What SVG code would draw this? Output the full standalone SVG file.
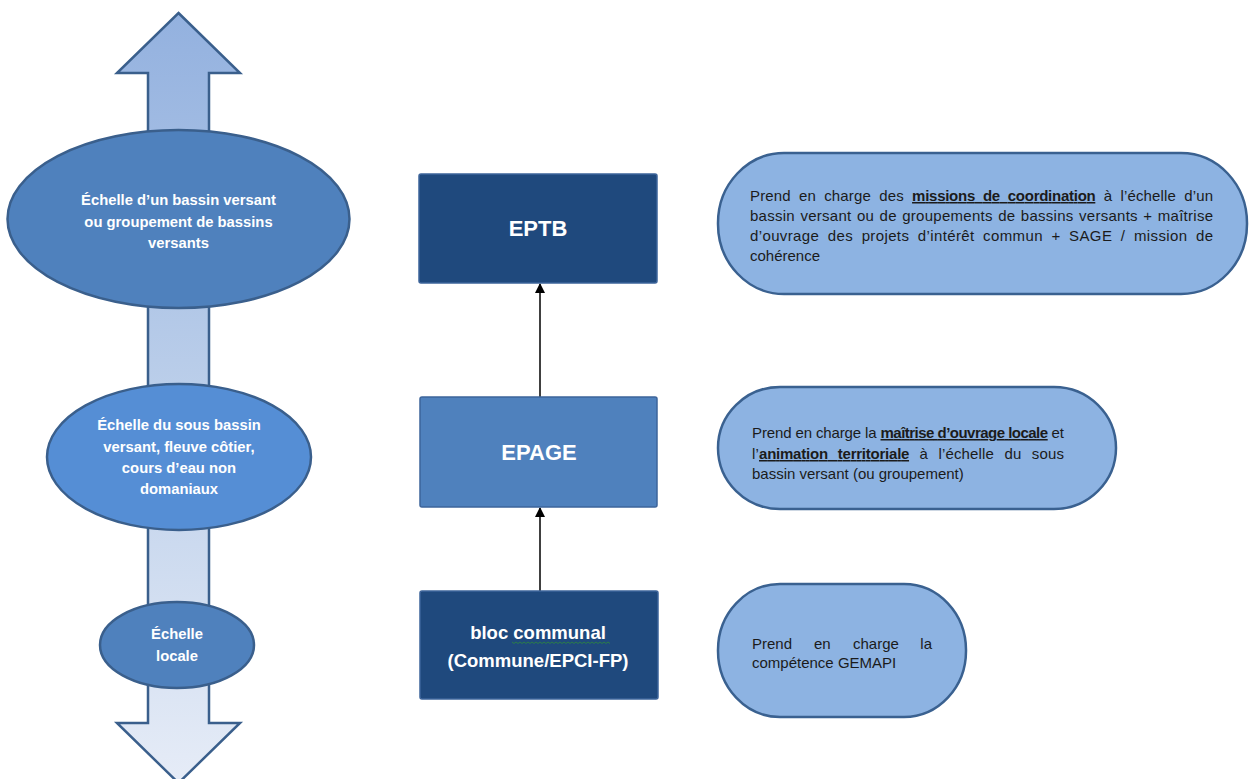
<svg xmlns="http://www.w3.org/2000/svg" width="1249" height="779" viewBox="0 0 1249 779">
<style>
.ell{stroke:#3a5f8c;stroke-width:2.5}
.et{font-family:"Liberation Sans",Arial,sans-serif;font-weight:bold;font-size:14.8px;fill:#ffffff;text-anchor:middle}
.box{stroke:#3d649a;stroke-width:1.5}
.bt{font-family:"Liberation Sans",Arial,sans-serif;font-weight:bold;fill:#ffffff;text-anchor:middle}
.pill{fill:#8db3e2;stroke:#3a6190;stroke-width:2.5}
.pt{font-family:"Liberation Sans",Arial,sans-serif;font-size:15px;fill:#1b1b1b}
.u{font-weight:bold;text-decoration:underline;letter-spacing:-0.4px}
.conn{stroke:#000;stroke-width:1.5;fill:none}
</style>
<defs>
<linearGradient id="arrowGrad" x1="0" y1="0" x2="0" y2="1">
<stop offset="0" stop-color="#93b1df"/>
<stop offset="0.5" stop-color="#bccfea"/>
<stop offset="1" stop-color="#e6ecf7"/>
</linearGradient>
<marker id="ah" markerWidth="10" markerHeight="10" refX="9" refY="5" orient="auto" markerUnits="userSpaceOnUse" viewBox="0 0 10 10">
<path d="M0,0 L10,5 L0,10 Z" fill="#000"/>
</marker>
</defs>
<rect width="1249" height="779" fill="#ffffff"/>

<g id="scale-arrow">
<path d="M178.5,13 L240,73 L209,73 L209,723 L240,723 L178.5,783 L117,723 L148,723 L148,73 L117,73 Z" fill="url(#arrowGrad)" stroke="#3a5f8c" stroke-width="2.5" stroke-linejoin="miter"/>
</g>

<g id="ellipse-bassin">
<ellipse class="ell" cx="178.5" cy="219" rx="171" ry="89" fill="#4f81bd"/>
<text class="et" x="178.5" y="205">Échelle d’un bassin versant</text>
<text class="et" x="178.5" y="227">ou groupement de bassins</text>
<text class="et" x="178.5" y="248">versants</text>
</g>

<g id="ellipse-sous-bassin">
<ellipse class="ell" cx="179" cy="457" rx="132" ry="73" fill="#558ed5"/>
<text class="et" x="179" y="430">Échelle du sous bassin</text>
<text class="et" x="179" y="452">versant, fleuve côtier,</text>
<text class="et" x="179" y="473">cours d’eau non</text>
<text class="et" x="179" y="494">domaniaux</text>
</g>

<g id="ellipse-locale">
<ellipse class="ell" cx="177" cy="645" rx="77" ry="43" fill="#4f81bd"/>
<text class="et" x="177" y="639">Échelle</text>
<text class="et" x="177" y="661">locale</text>
</g>

<g id="connectors">
<line class="conn" x1="540" y1="397" x2="540" y2="284" marker-end="url(#ah)"/>
<line class="conn" x1="540" y1="591" x2="540" y2="508" marker-end="url(#ah)"/>
</g>

<g id="node-eptb">
<rect class="box" x="419" y="174" width="238" height="109" rx="2" fill="#1f497d"/>
<text class="bt" x="538" y="236" font-size="22">EPTB</text>
</g>

<g id="node-epage">
<rect class="box" x="420" y="397" width="237" height="110" rx="2" fill="#4f81bd"/>
<text class="bt" x="539" y="460" font-size="22">EPAGE</text>
</g>

<g id="node-bloc">
<rect class="box" x="420" y="591" width="238" height="108" rx="2" fill="#1f497d"/>
<text class="bt" x="538" y="639" font-size="18.5">bloc communal</text>
<path d="M512,642 l2,1.5 l2,-1.5 l2,1.5 l2,-1.5 l2,1.5 l2,-1.5 l2,1.5 l2,-1.5 l2,1.5 l2,-1.5 l2,1.5 l2,-1.5 l2,1.5 l2,-1.5 l2,1.5 l2,-1.5 l2,1.5 l2,-1.5 l2,1.5 l2,-1.5 l2,1.5 l2,-1.5 l2,1.5 l2,-1.5 l2,1.5 l2,-1.5 l2,1.5 l2,-1.5 l2,1.5 l2,-1.5 l2,1.5 l2,-1.5 l2,1.5 l2,-1.5 l2,1.5 l2,-1.5 l2,1.5 l2,-1.5 l2,1.5 l2,-1.5 l2,1.5 l2,-1.5 l2,1.5 l2,-1.5 l2,1.5 l2,-1.5 l2,1.5 l2,-1.5 l2,1.5" fill="none" stroke="#2e8b3a" stroke-width="0.8"/>
<text class="bt" x="538" y="667" font-size="18.5">(Commune/EPCI-FP)</text>
</g>

<g id="desc-eptb">
<rect class="pill" x="718" y="153" width="529" height="141" rx="66" ry="70"/>
<text class="pt" x="750" y="201" word-spacing="4" textLength="463" lengthAdjust="spacing">Prend en charge des <tspan class="u">missions de coordination</tspan> à l’échelle d’un</text>
<text class="pt" x="750" y="221" word-spacing="1" textLength="463" lengthAdjust="spacing">bassin versant ou de groupements de bassins versants + maîtrise</text>
<text class="pt" x="750" y="241" word-spacing="4" textLength="463" lengthAdjust="spacing">d’ouvrage des projets d’intérêt commun + SAGE / mission de</text>
<text class="pt" x="750" y="261">cohérence</text>
</g>

<g id="desc-epage">
<rect class="pill" x="718" y="387" width="398" height="122" rx="62" ry="61"/>
<text class="pt" x="752" y="438" textLength="312" lengthAdjust="spacing">Prend en charge la <tspan class="u">maîtrise d’ouvrage locale</tspan> et</text>
<text class="pt" x="752" y="459" word-spacing="6" textLength="312" lengthAdjust="spacing">l’<tspan class="u">animation territoriale</tspan> à l’échelle du sous</text>
<text class="pt" x="752" y="479">bassin versant (ou groupement)</text>
</g>

<g id="desc-bloc">
<rect class="pill" x="718" y="584" width="248" height="133" rx="62" ry="66"/>
<text class="pt" x="752" y="649">Prend</text>
<text class="pt" x="814" y="649">en</text>
<text class="pt" x="853" y="649">charge</text>
<text class="pt" x="932" y="649" text-anchor="end">la</text>
<text class="pt" x="752" y="668">compétence GEMAPI</text>
</g>
</svg>
